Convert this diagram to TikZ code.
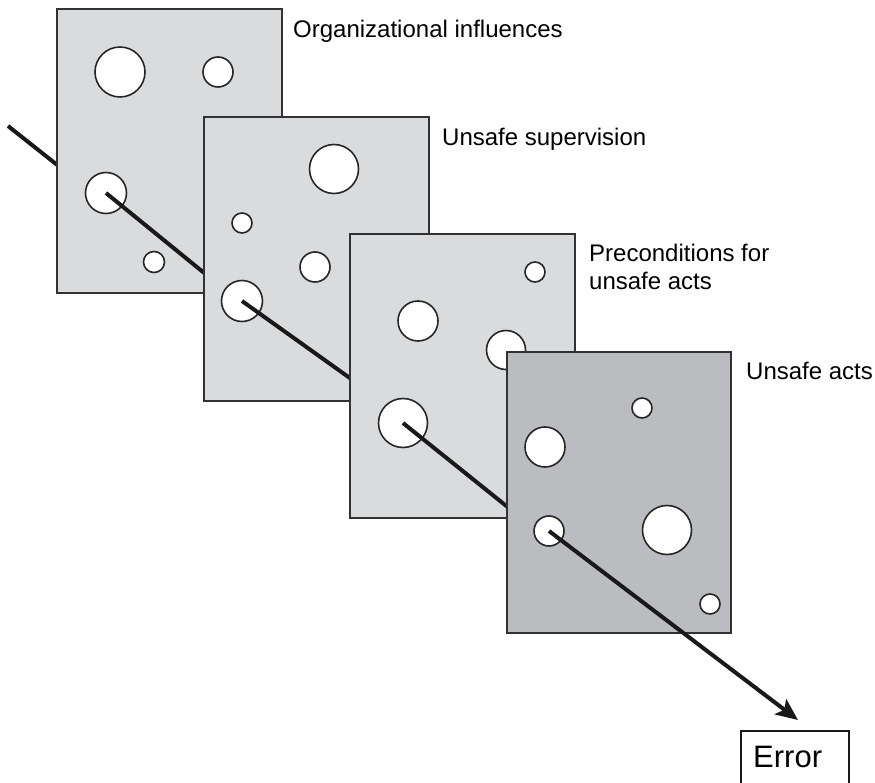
\documentclass[tikz,border=0pt]{standalone}
\usepackage{fontspec}
\setmainfont{Liberation Sans}
\usetikzlibrary{arrows.meta}
\definecolor{platelight}{RGB}{218,219,221}
\definecolor{platedark}{RGB}{187,188,191}
\definecolor{edgegray}{RGB}{50,50,50}
\tikzset{
  plate/.style={draw=edgegray, line width=2pt, fill=platelight, anchor=north west, inner sep=0pt, minimum width=225pt, minimum height=284pt},
  hole/.style={circle, draw=black!85, line width=1.6pt, fill=white, inner sep=0pt},
  ray/.style={line width=4pt, black!90},
  lbl/.style={anchor=base west, inner sep=0pt, font=\fontsize{24}{28}\selectfont},
  errbox/.style={draw=black!90, line width=2pt, anchor=north west, inner sep=0pt, minimum width=108pt, minimum height=70pt},
  errtext/.style={anchor=base west, inner sep=0pt, font=\fontsize{31}{34}\selectfont}
}
\begin{document}
\begin{tikzpicture}[x=1pt,y=-1pt]
\useasboundingbox (0,0) rectangle (875,783);
\fill[white] (0,0) rectangle (875,783);
% incoming ray
\coordinate (start) at (8,126);
\coordinate (e0) at (80,183);
\draw[ray] (start) -- (e0);
% plate 1
\node[plate] (p1) at (56,8) {};
\node[hole, minimum size=50pt] (h11) at (120,72) {};
\node[hole, minimum size=30pt] (h12) at (218,72) {};
\node[hole, minimum size=41pt] (h13) at (106,193) {};
\node[hole, minimum size=21pt] (h14) at (154,262) {};
\coordinate (e1) at (230,294);
\draw[ray] (h13.center) -- (e1);
% plate 2
\node[plate] (p2) at (203,116) {};
\node[hole, minimum size=49pt] (h21) at (334,169) {};
\node[hole, minimum size=20pt] (h22) at (242,223) {};
\node[hole, minimum size=30pt] (h23) at (315,267) {};
\node[hole, minimum size=41pt] (h24) at (242,301) {};
\coordinate (e2) at (375,396);
\draw[ray] (h24.center) -- (e2);
% plate 3
\node[plate] (p3) at (349,233) {};
\node[hole, minimum size=20pt] (h31) at (535,272) {};
\node[hole, minimum size=40pt] (h32) at (418,321) {};
\node[hole, minimum size=39pt] (h33) at (506,350) {};
\node[hole, minimum size=49pt] (h34) at (403,423) {};
\coordinate (e3) at (530,525);
\draw[ray] (h34.center) -- (e3);
% plate 4
\node[plate, fill=platedark, minimum width=224pt, minimum height=281pt] (p4) at (506,351) {};
\node[hole, minimum size=20pt] (h41) at (642,408) {};
\node[hole, minimum size=40pt] (h42) at (545,447) {};
\node[hole, minimum size=49pt] (h43) at (667,530) {};
\node[hole, minimum size=30pt] (h44) at (549,531) {};
\node[hole, minimum size=20pt] (h45) at (710,604) {};
% error box and final arrow
\node[errbox] (err) at (740,730) {};
\node[errtext] (errlabel) at ([shift={(13,37)}]err.north west) {Error};
\coordinate (tip) at (798,720);
\draw[ray, -{Stealth[length=22pt, width=19pt, inset=5pt]}] (h44.center) -- (tip);
% labels
\node[lbl] (l1) at (293,38) {Organizational influences};
\node[lbl] (l2) at (442,146) {Unsafe supervision};
\node[lbl] (l3) at (589,262) {Preconditions for};
\node[lbl] (l3b) at (589,290) {unsafe acts};
\node[lbl] (l4) at (746,379) {Unsafe acts};
\end{tikzpicture}
\end{document}
